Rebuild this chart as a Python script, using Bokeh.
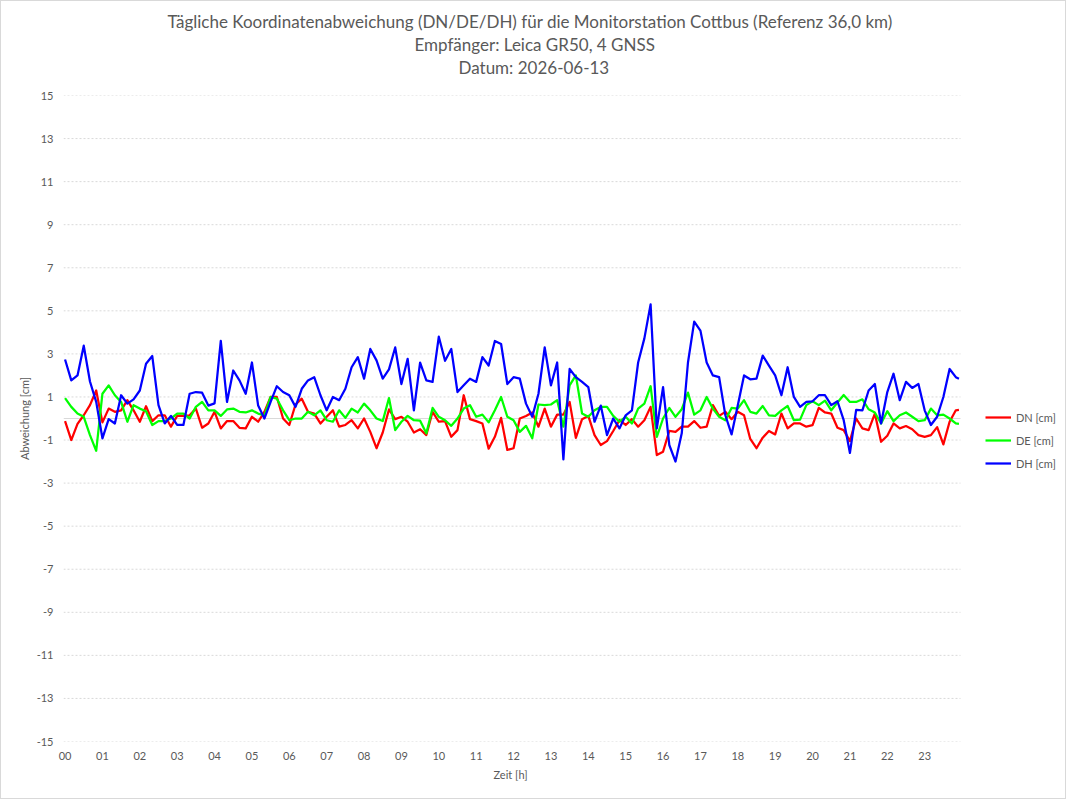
from bokeh.plotting import figure
from bokeh.models import Range1d, FixedTicker, Title, Legend, LegendItem, LinearAxis
from bokeh.embed import file_html
from bokeh.resources import INLINE

# time in hours (10-minute readings) plus the last reading
hours = [k / 6 for k in range(144)] + [23 + 55 / 60]

dn = [-0.12, -1.0, -0.25, 0.15, 0.62, 1.3, -0.18, 0.46, 0.31, 0.38, 0.85, 0.38, -0.15, 0.57, -0.12, 0.15, 0.15, -0.38, 0.12, 0.12, 0.15, 0.46, -0.43, -0.23,
      0.31, -0.46, -0.12, -0.12, -0.43, -0.46, 0.08, -0.15, 0.31, 1.0, 1.0, 0.0, -0.3, 0.65, 0.92, 0.31, 0.23, -0.23, 0.08, 0.38, -0.38, -0.3, -0.08, -0.46,
      0.0, -0.62, -1.38, -0.65, 0.42, -0.03, 0.08, -0.15, -0.65, -0.5, -0.77, 0.31, -0.15, -0.12, -0.85, -0.54, 1.08, -0.03, -0.12, -0.23, -1.4, -0.85, 0.03, -1.46,
      -1.38, 0.0, 0.12, 0.28, -0.38, 0.46, -0.38, 0.18, 0.18, 0.77, -0.9, -0.03, 0.12, -0.77, -1.23, -1.05, -0.58, -0.08, -0.3, -0.03, -0.38, -0.08, 0.54, -1.7,
      -1.54, -0.58, -0.62, -0.38, -0.38, -0.12, -0.43, -0.38, 0.62, 0.12, 0.31, -0.03, 0.31, 0.15, -0.95, -1.38, -0.89, -0.58, -0.74, 0.23, -0.46, -0.23, -0.23, -0.38,
      -0.31, 0.49, 0.28, 0.23, -0.43, -0.54, -1.05, 0.0, -0.46, -0.54, 0.23, -1.08, -0.8, -0.23, -0.46, -0.35, -0.5, -0.77, -0.85, -0.77, -0.4, -1.2, -0.15, 0.38,
      0.4]

de = [0.95, 0.54, 0.23, 0.08, -0.77, -1.5, 1.15, 1.54, 1.08, 0.77, -0.15, 0.62, 0.46, 0.34, -0.3, -0.12, -0.12, 0.0, 0.23, 0.23, 0.0, 0.54, 0.77, 0.38,
      0.38, 0.12, 0.42, 0.46, 0.31, 0.28, 0.38, 0.23, 0.15, 1.0, 0.92, 0.38, -0.08, 0.0, 0.0, 0.31, 0.15, 0.38, -0.08, -0.15, 0.38, 0.03, 0.46, 0.28,
      0.69, 0.38, 0.0, -0.12, 0.95, -0.54, -0.15, 0.12, -0.08, -0.1, -0.69, 0.49, 0.08, -0.08, -0.34, 0.0, 0.46, 0.62, 0.08, 0.18, -0.18, 0.38, 1.0, 0.08,
      -0.08, -0.62, -0.34, -0.92, 0.65, 0.62, 0.65, 0.85, -0.38, 1.54, 2.0, 0.23, 0.08, 0.38, 0.54, 0.54, 0.12, -0.15, 0.08, -0.23, 0.46, 0.69, 1.5, -0.85,
      0.0, 0.49, 0.08, 0.43, 1.2, 0.18, 0.38, 1.0, 0.46, 0.08, -0.08, 0.49, 0.46, 0.85, 0.31, 0.23, 0.58, 0.15, 0.12, 0.38, 0.58, -0.08, -0.05, 0.62,
      0.8, 0.62, 0.83, 0.38, 0.74, 1.09, 0.77, 0.77, 0.89, 0.43, 0.28, -0.23, 0.34, -0.12, 0.15, 0.28, 0.08, -0.12, -0.08, 0.46, 0.15, 0.18, 0.0, -0.23,
      -0.25]

dh = [2.74, 1.77, 2.0, 3.38, 1.72, 0.77, -0.92, -0.03, -0.23, 1.08, 0.69, 0.89, 1.3, 2.54, 2.9, 0.62, -0.23, 0.12, -0.3, -0.3, 1.15, 1.23, 1.2, 0.6,
      0.7, 3.6, 0.77, 2.23, 1.77, 1.15, 2.6, 0.6, 0.0, 0.77, 1.5, 1.23, 1.08, 0.54, 1.38, 1.77, 1.92, 1.08, 0.38, 1.0, 0.85, 1.38, 2.38, 2.85,
      1.85, 3.23, 2.7, 1.85, 2.28, 3.3, 1.6, 2.77, 0.38, 2.6, 1.77, 1.7, 3.8, 2.68, 3.23, 1.23, 1.54, 1.85, 1.7, 2.85, 2.46, 3.6, 3.46, 1.6,
      1.92, 1.85, 0.69, 0.08, 1.15, 3.3, 1.54, 2.6, -1.9, 2.3, 1.92, 1.7, 1.46, -0.15, 0.6, -0.77, 0.0, -0.46, 0.15, 0.38, 2.6, 3.72, 5.3, -0.46,
      1.46, -1.23, -2.0, -0.69, 2.6, 4.5, 4.08, 2.6, 2.0, 1.92, 0.15, -0.74, 0.62, 2.0, 1.82, 1.85, 2.92, 2.46, 2.0, 1.08, 2.38, 1.0, 0.54, 0.77,
      0.8, 1.08, 1.08, 0.62, 0.8, -0.08, -1.6, 0.4, 0.38, 1.3, 1.6, -0.23, 1.23, 2.08, 0.85, 1.7, 1.42, 1.6, 0.38, -0.3, 0.08, 1.0, 2.3, 1.92,
      1.85]

series_names = ["DN [cm]", "DE [cm]", "DH [cm]"]
series_colors = ["#ff0000", "#00ff00", "#0000ff"]

x_ticks = list(range(24))
x_labels = {h: "%02d" % h for h in x_ticks}
y_ticks = list(range(-15, 16, 2))
y_labels = {v: str(v) for v in y_ticks}

title_lines = [
    "Tägliche Koordinatenabweichung (DN/DE/DH) für die Monitorstation Cottbus (Referenz 36,0 km)",
    "Empfänger: Leica GR50, 4 GNSS",
    "Datum: 2026-06-13",
]
title_offsets = [104, 351, 395]   # px from plot-area left

TXT = "#595959"
FONT = "Lato"
GRID = "#d9d9d9"

X0, X1 = -1 / 24, 24 - 1 / 24        # extent of the hourly category axis
PX_PER_H = 897 / 24                  # plot area 63..960 px
XR_END = X0 + 1004 / PX_PER_H        # plot area continued to the right edge (legend room)

p = figure(width=1066, height=799,
           x_range=Range1d(X0, XR_END), y_range=Range1d(-15, 15),
           output_backend="svg", toolbar_location=None,
           min_border_left=62, min_border_right=0, min_border_top=94, min_border_bottom=59)
p.styles = {"border": "1px solid #d9d9d9"}
p.title.text = ""
p.outline_line_color = None
p.background_fill_color = "white"
p.border_fill_color = "white"

xa = p.xaxis[0]
ya = p.yaxis[0]
xa.ticker = FixedTicker(ticks=x_ticks)
xa.major_label_overrides = x_labels
ya.ticker = FixedTicker(ticks=y_ticks)
ya.major_label_overrides = y_labels
for ax in (xa, ya):
    ax.axis_line_color = None
    ax.major_tick_line_color = None
    ax.minor_tick_line_color = None
    ax.major_tick_out = 0
    ax.major_tick_in = 0
    ax.minor_tick_out = 0
    ax.minor_tick_in = 0
    ax.major_label_text_font = FONT
    ax.major_label_text_font_size = "11px"
    ax.major_label_text_color = TXT
    ax.axis_label_text_font = FONT
    ax.axis_label_text_font_size = "11px"
    ax.axis_label_text_font_style = "normal"
    ax.axis_label_text_color = TXT
ya.axis_label = "Abweichung [cm]"
xa.major_label_standoff = 10
ya.major_label_standoff = 10
ya.axis_label_standoff = 3

# blank spacer between the plot area and the title block (white tick on white)
spacer = LinearAxis(ticker=FixedTicker(ticks=[X0]), major_label_overrides={X0: ""},
                    axis_line_color=None, major_tick_line_color="white",
                    minor_tick_line_color=None, major_tick_out=18, major_tick_in=0,
                    minor_tick_out=0, minor_tick_in=0, major_label_standoff=0,
                    major_label_text_font_size="1px")
p.add_layout(spacer, "above")

# title lines (added from the plot outward)
for line, off in reversed(list(zip(title_lines, title_offsets))):
    p.add_layout(Title(text=line, align="left", offset=off, standoff=0,
                       text_font=FONT, text_font_size="17px", text_font_style="normal",
                       text_color=TXT), "above")

# x-axis title, centred under the hourly axis
p.add_layout(Title(text="Zeit [h]", align="left", offset=430, standoff=10, vertical_align="top",
                   text_font=FONT, text_font_size="11px", text_font_style="normal",
                   text_color=TXT), "below")

# horizontal grid (dotted) limited to the hourly axis, plus the zero line
p.xgrid.visible = False
p.ygrid.visible = False
p.segment(x0=[X0] * len(y_ticks), y0=y_ticks, x1=[X1] * len(y_ticks), y1=y_ticks,
          line_color=GRID, line_width=1, line_dash="2 2")
p.segment(x0=[X0], y0=[0], x1=[X1], y1=[0], line_color=GRID, line_width=1)

renderers = []
for vals, col in zip([dn, de, dh], series_colors):
    r = p.line(hours, vals, line_color=col, line_width=2.25, line_join="round")
    renderers.append(r)

legend = Legend(items=[LegendItem(label=n, renderers=[r]) for n, r in zip(series_names, renderers)],
                location=(922, 268), orientation="vertical",
                border_line_alpha=0, background_fill_alpha=0,
                label_text_font=FONT, label_text_font_size="11px", label_text_color=TXT,
                glyph_width=26, glyph_height=20, label_height=20, spacing=3,
                padding=0, margin=0, label_standoff=5)
p.add_layout(legend)

open("out.html", "w").write(file_html(p, INLINE))
